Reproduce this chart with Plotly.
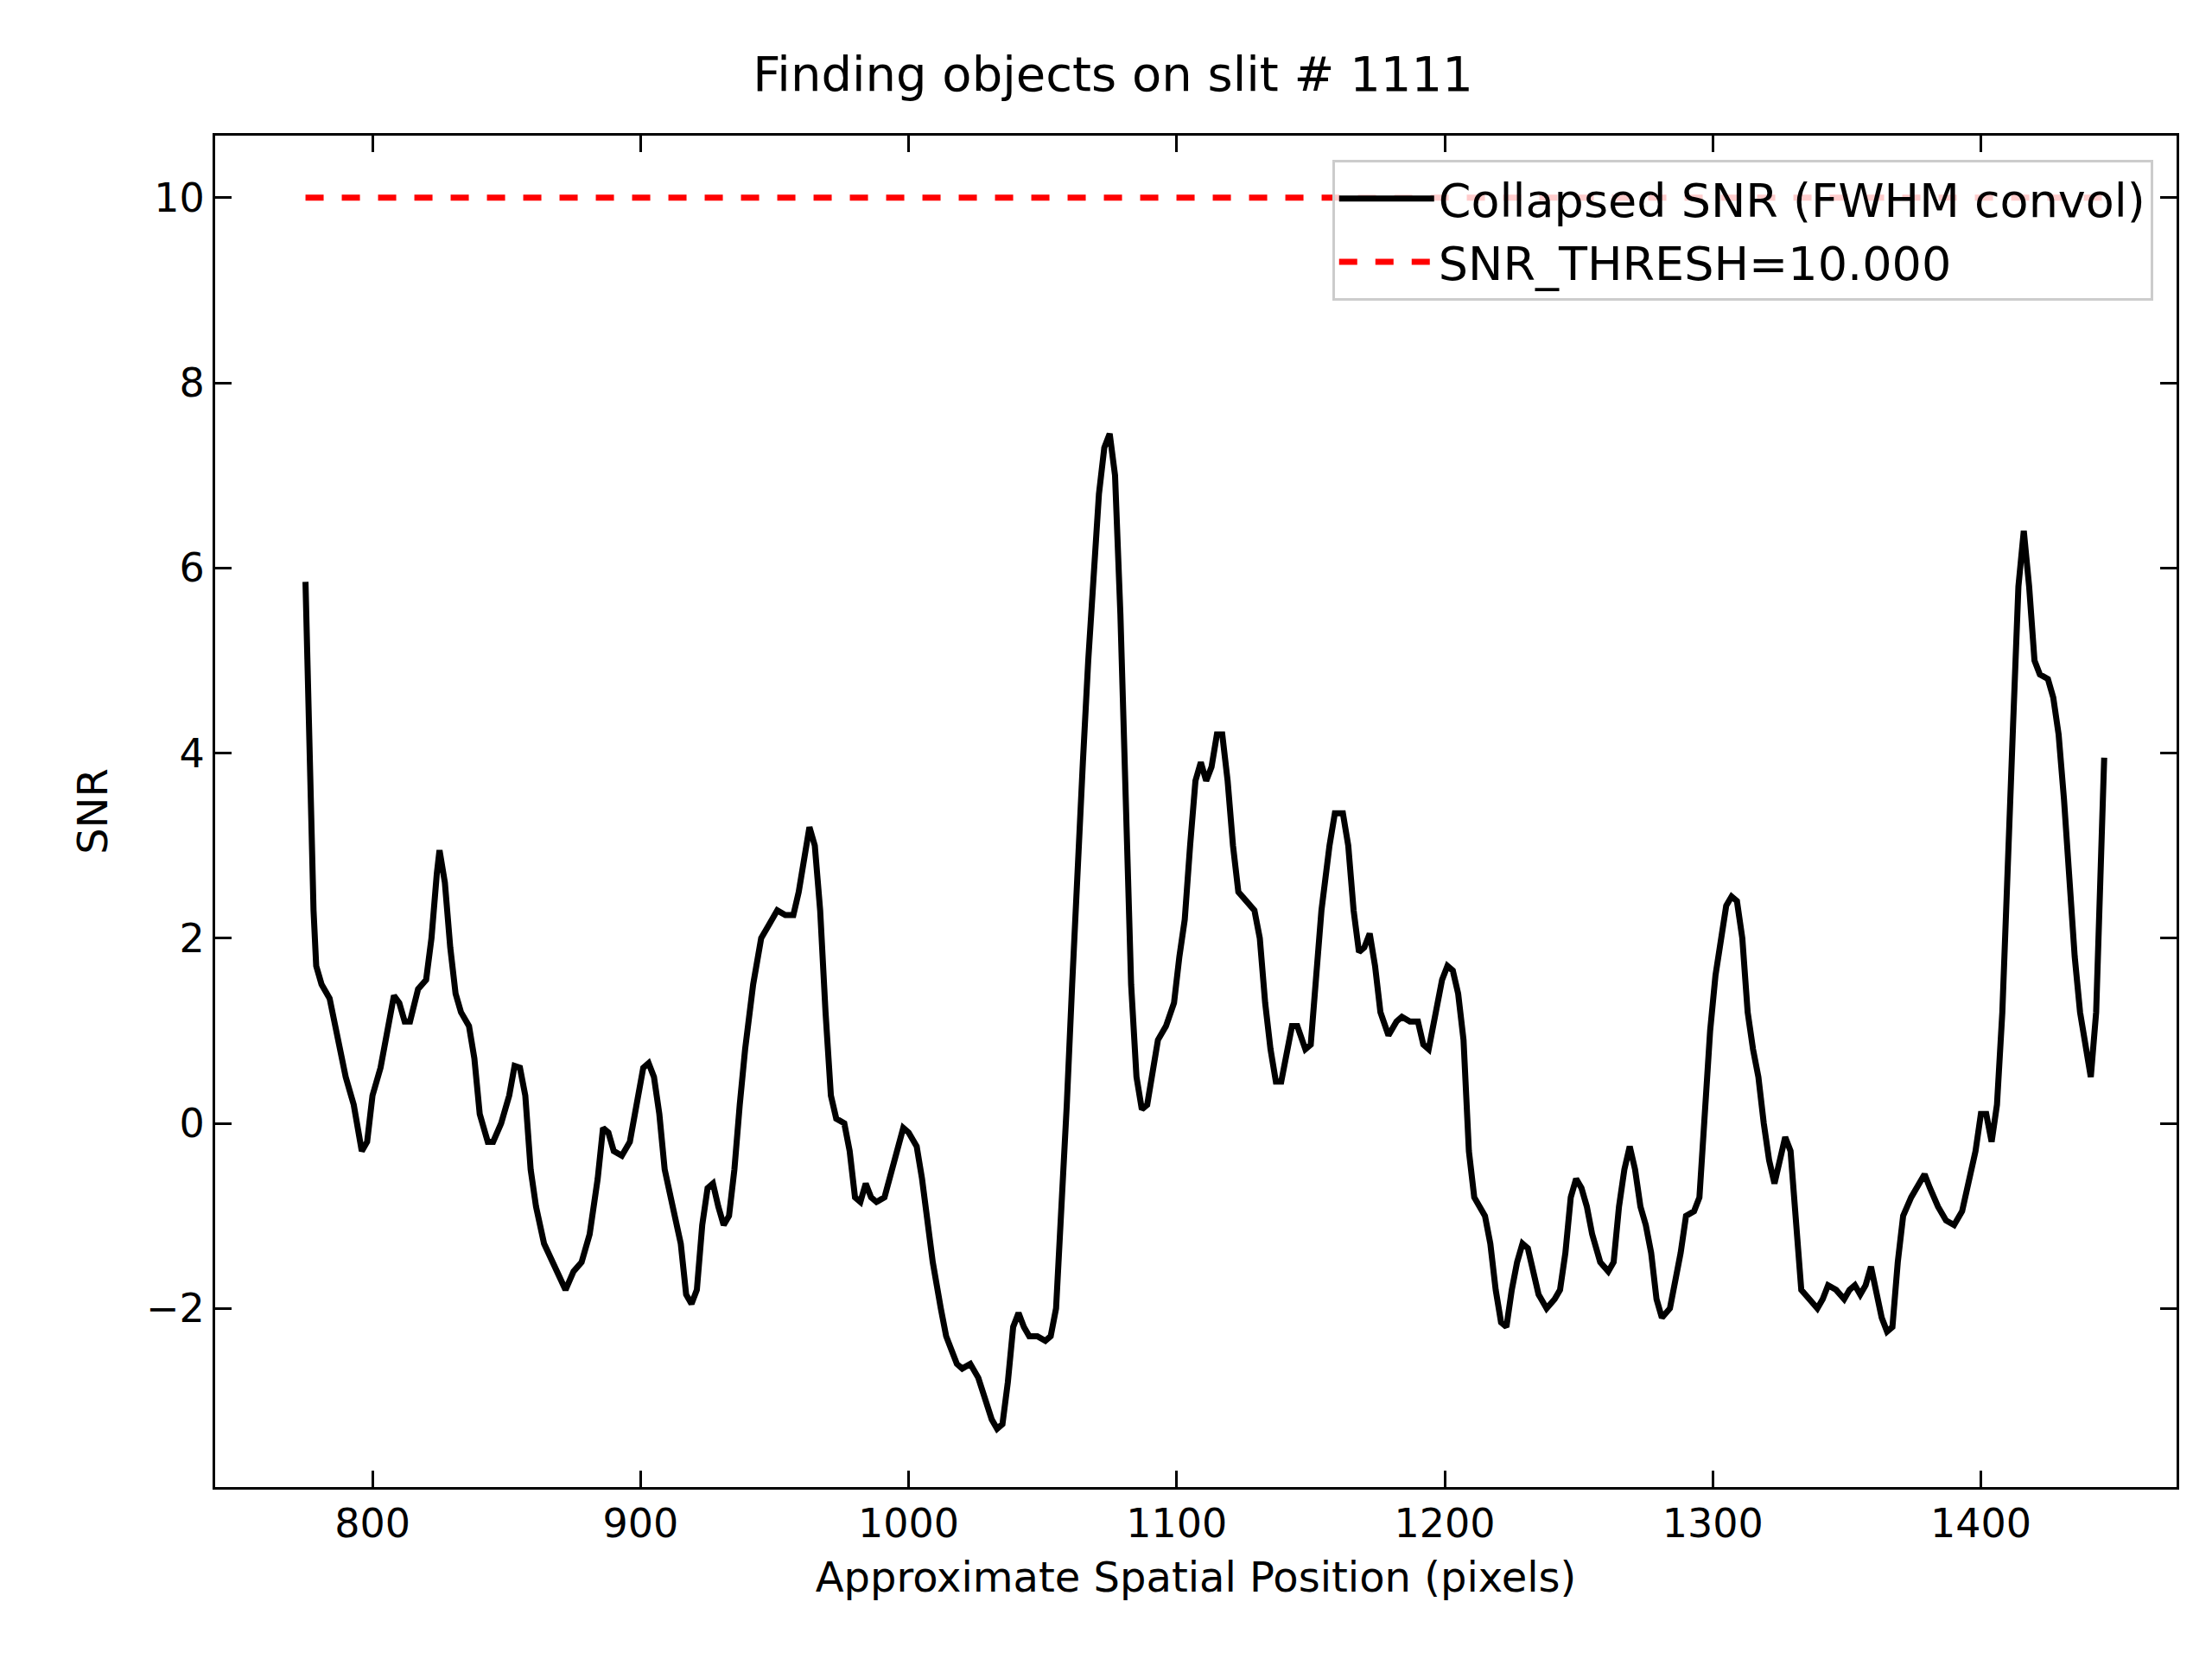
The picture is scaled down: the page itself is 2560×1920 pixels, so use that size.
import plotly.graph_objects as go

# Collapsed SNR profile along the slit
pos = [775, 776, 777, 778, 779, 781, 784, 787, 790, 793, 796, 798, 800, 803, 806, 808, 810, 812, 814, 817,
       820, 822, 824, 825, 827, 829, 831, 833, 836, 838, 840, 843, 845, 848, 851, 853, 855, 857, 859, 861,
       864, 867, 870, 872, 875, 878, 881, 884, 886, 888, 890, 893, 896, 899, 901, 903, 905, 907, 909, 912,
       915, 917, 919, 921, 923, 925, 927, 929, 931, 933, 935, 937, 939, 942, 945, 948, 951, 954, 957, 959,
       961, 963, 965, 967, 969, 971, 973, 976, 978, 980, 982, 984, 986, 988, 991, 993, 996, 998, 1000, 1003,
       1005, 1007, 1009, 1012, 1014, 1016, 1018, 1020, 1023, 1026, 1029, 1031, 1033, 1035, 1037, 1039, 1041, 1043, 1045, 1048,
       1051, 1053, 1055, 1057, 1059, 1061, 1063, 1065, 1067, 1069, 1071, 1073, 1075, 1077, 1079, 1081, 1083, 1085, 1087, 1089,
       1091, 1093, 1096, 1099, 1101, 1103, 1105, 1107, 1109, 1111, 1113, 1115, 1117, 1119, 1121, 1123, 1126, 1129, 1131, 1133,
       1135, 1137, 1139, 1141, 1143, 1145, 1148, 1150, 1152, 1154, 1157, 1159, 1162, 1164, 1166, 1168, 1170, 1172, 1174, 1176,
       1179, 1182, 1184, 1187, 1190, 1192, 1194, 1196, 1199, 1201, 1203, 1205, 1207, 1209, 1211, 1213, 1215, 1217, 1219, 1221,
       1223, 1225, 1227, 1229, 1231, 1233, 1235, 1238, 1241, 1243, 1245, 1247, 1249, 1251, 1253, 1255, 1258, 1261, 1263, 1265,
       1267, 1269, 1271, 1273, 1275, 1277, 1279, 1281, 1284, 1286, 1288, 1290, 1293, 1295, 1297, 1299, 1301, 1303, 1305, 1307,
       1309, 1311, 1313, 1315, 1317, 1319, 1321, 1323, 1325, 1327, 1329, 1331, 1333, 1336, 1339, 1341, 1343, 1346, 1349, 1351,
       1353, 1355, 1357, 1359, 1361, 1363, 1365, 1367, 1369, 1371, 1374, 1377, 1379, 1381, 1384, 1387, 1390, 1393, 1396, 1398,
       1400, 1402, 1404, 1406, 1408, 1410, 1412, 1414, 1416, 1418, 1420, 1422, 1425, 1427, 1429, 1431, 1433, 1435, 1437, 1439,
       1441, 1443, 1444, 1445, 1446]
snr = [5.85, 4.5, 3.3, 2.3, 1.7, 1.5, 1.35, 0.9, 0.5, 0.2, -0.3, -0.2, 0.3, 0.6, 1.1, 1.38, 1.3, 1.1, 1.1, 1.45,
       1.55, 2.0, 2.7, 2.95, 2.6, 1.9, 1.4, 1.2, 1.05, 0.7, 0.1, -0.2, -0.2, 0.0, 0.3, 0.62, 0.6, 0.3, -0.5, -0.9,
       -1.3, -1.5, -1.7, -1.8, -1.6, -1.5, -1.2, -0.6, -0.05, -0.1, -0.3, -0.35, -0.2, 0.3, 0.6, 0.65, 0.5, 0.1, -0.5, -0.9,
       -1.3, -1.85, -1.95, -1.8, -1.1, -0.7, -0.65, -0.9, -1.1, -1.0, -0.5, 0.2, 0.8, 1.5, 2.0, 2.15, 2.3, 2.25, 2.25, 2.5,
       2.9, 3.2, 3.0, 2.3, 1.2, 0.3, 0.05, 0.0, -0.3, -0.8, -0.85, -0.65, -0.8, -0.85, -0.8, -0.6, -0.3, -0.05, -0.1, -0.25,
       -0.6, -1.1, -1.5, -2.0, -2.3, -2.45, -2.6, -2.65, -2.6, -2.75, -3.0, -3.2, -3.3, -3.25, -2.8, -2.2, -2.05, -2.2, -2.3, -2.3,
       -2.35, -2.3, -2.0, -1.0, 0.2, 1.5, 2.8, 3.9, 5.0, 6.0, 6.8, 7.3, 7.45, 7.0, 5.5, 3.5, 1.5, 0.5, 0.15, 0.2,
       0.6, 0.9, 1.05, 1.3, 1.8, 2.2, 3.0, 3.7, 3.9, 3.7, 3.85, 4.2, 4.2, 3.7, 3.0, 2.5, 2.4, 2.3, 2.0, 1.3,
       0.8, 0.45, 0.45, 0.8, 1.05, 1.05, 0.8, 0.85, 1.5, 2.3, 3.0, 3.35, 3.35, 3.0, 2.3, 1.85, 1.9, 2.05, 1.7, 1.2,
       0.95, 1.1, 1.15, 1.1, 1.1, 0.85, 0.8, 1.1, 1.55, 1.7, 1.65, 1.4, 0.9, -0.3, -0.8, -0.9, -1.0, -1.3, -1.8, -2.15,
       -2.2, -1.8, -1.5, -1.3, -1.35, -1.6, -1.85, -2.0, -1.9, -1.8, -1.4, -0.8, -0.6, -0.7, -0.9, -1.2, -1.5, -1.6, -1.5, -0.9,
       -0.5, -0.25, -0.5, -0.9, -1.1, -1.4, -1.9, -2.1, -2.0, -1.7, -1.4, -1.0, -0.95, -0.8, 0.2, 1.0, 1.6, 2.0, 2.35, 2.45,
       2.4, 2.0, 1.2, 0.8, 0.5, 0.0, -0.4, -0.65, -0.4, -0.15, -0.3, -1.0, -1.8, -1.9, -2.0, -1.9, -1.75, -1.8, -1.9, -1.8,
       -1.75, -1.85, -1.75, -1.55, -1.8, -2.1, -2.25, -2.2, -1.5, -1.0, -0.8, -0.65, -0.55, -0.7, -0.9, -1.05, -1.1, -0.95, -0.6, -0.3,
       0.1, 0.1, -0.2, 0.2, 1.2, 3.0, 4.3, 5.8, 6.4, 5.8, 5.0, 4.85, 4.8, 4.6, 4.2, 3.5, 2.6, 1.8, 1.2, 0.8,
       0.5, 1.2, 2.0, 3.0, 3.95]

snr_thresh = 10.0
thresh_x = [775, 1446]

font = "DejaVu Sans"

fig = go.Figure()
fig.add_trace(go.Scatter(x=pos, y=snr, mode="lines", name="Collapsed SNR (FWHM convol)",
                         line=dict(color="black", width=7)))
fig.add_trace(go.Scatter(x=thresh_x, y=[snr_thresh, snr_thresh], mode="lines",
                         name="SNR_THRESH=%.3f" % snr_thresh,
                         line=dict(color="red", width=7, dash="dash")))

axis_common = dict(showgrid=False, zeroline=False, showline=True, linecolor="black", linewidth=3,
                   mirror="ticks", ticks="inside", ticklen=19, tickwidth=3, tickcolor="black",
                   tickfont=dict(size=46, family=font, color="black"))

fig.update_layout(
    width=2560, height=1920,
    paper_bgcolor="white", plot_bgcolor="white",
    margin=dict(l=241, r=49, t=149, b=207),
    title=dict(text="Finding objects on slit # 1111", x=0.5, xanchor="center", y=0.97,
               font=dict(size=56, family=font, color="black")),
    xaxis=dict(range=[741.3, 1473], tickvals=[800, 900, 1000, 1100, 1200, 1300, 1400],
               title=dict(text="Approximate Spatial Position (pixels)", font=dict(size=48, family=font, color="black"),
                          standoff=20),
               **axis_common),
    yaxis=dict(range=[-3.93, 10.67], tickvals=[-2, 0, 2, 4, 6, 8, 10],
               ticktext=["\u22122", "0", "2", "4", "6", "8", "10"],
               title=dict(text="SNR", font=dict(size=48, family=font, color="black"), standoff=30),
               **axis_common),
    legend=dict(x=0.988, y=0.982, xanchor="right", yanchor="top", itemwidth=110,
                bgcolor="rgba(255,255,255,0.8)", bordercolor="#cccccc", borderwidth=3,
                font=dict(size=54, family=font, color="black")),
    showlegend=True,
)

fig.write_html("out.html")
